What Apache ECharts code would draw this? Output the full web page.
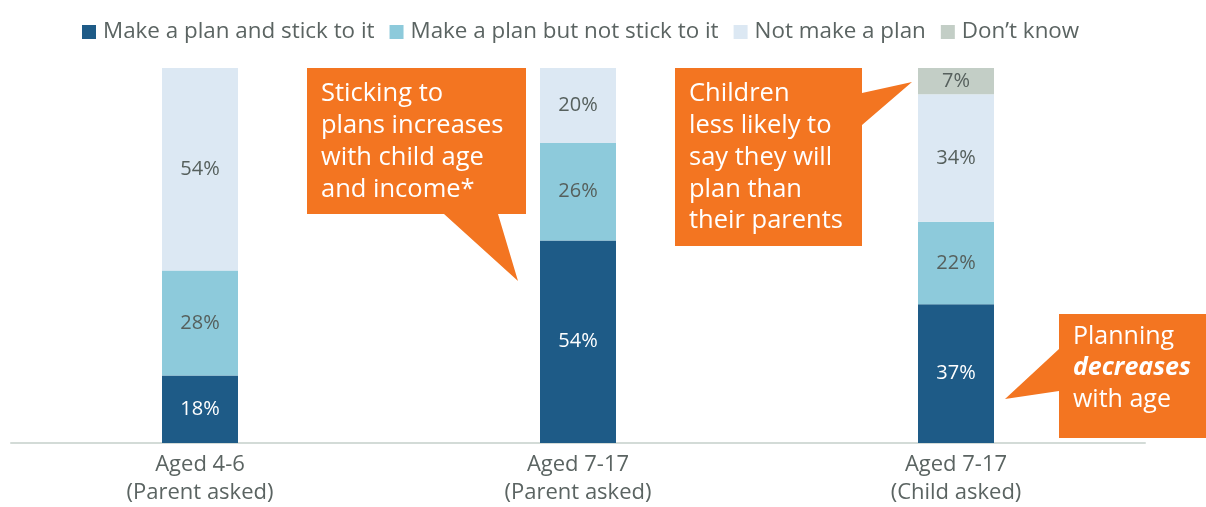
<!DOCTYPE html>
<html>
<head>
<meta charset="utf-8">
<script src="https://cdn.jsdelivr.net/npm/echarts@6/dist/echarts.min.js"></script>
<style>html,body{margin:0;padding:0;background:#fff;}#c{width:1206px;height:507px;}</style>
</head>
<body>
<div id="c"></div>
<script>
const categories = ['Aged 4-6\n(Parent asked)', 'Aged 7-17\n(Parent asked)', 'Aged 7-17\n(Child asked)'];
const seriesNames = ['Make a plan and stick to it', 'Make a plan but not stick to it', 'Not make a plan', 'Don\u2019t know'];
const planStick = [18, 54, 37];
const planNoStick = [28, 26, 22];
const noPlan = [54, 20, 34];
const dontKnow = [null, null, 7];
const colors = ['#1e5b87', '#8dcadb', '#dce8f3', '#c3cec6'];
const labelColors = ['#ffffff', '#56605d', '#56605d', '#56605d'];
const FONT = '"Open Sans", Lato, sans-serif';
const ORANGE = '#f37521';

const chart = echarts.init(document.getElementById('c'));
const allData = [planStick, planNoStick, noPlan, dontKnow];
const series = allData.map((d, i) => ({
  name: seriesNames[i],
  type: 'bar',
  stack: 'total',
  barWidth: 76,
  data: d,
  itemStyle: { color: colors[i] },
  label: {
    show: true,
    position: 'inside',
    formatter: p => p.value == null ? '' : p.value + '%',
    color: labelColors[i],
    fontSize: 20,
    fontFamily: FONT
  }
}));

function txt(x, y, lines, extra) {
  return Object.assign({
    type: 'text', left: x, top: y, z: 20,
    style: { text: lines.join('\n'), fill: '#ffffff', font: '25.5px ' + FONT, lineHeight: 31.8 }
  }, extra || {});
}

chart.setOption({
  animation: false,
  textStyle: { fontFamily: FONT },
  legend: {
    top: 16, left: 77,
    itemWidth: 14, itemHeight: 14, itemGap: 15,
    icon: 'rect',
    textStyle: { fontSize: 22.4, color: '#5b6462', fontFamily: FONT, padding: [0, 0, 0, 2] },
    data: seriesNames
  },
  grid: { left: 11, right: 61, top: 68, bottom: 62, containLabel: false },
  xAxis: {
    type: 'category',
    data: categories,
    axisLine: { lineStyle: { color: '#d3dbd7', width: 2 } },
    axisTick: { show: false },
    axisLabel: { fontSize: 22, color: '#5b6462', lineHeight: 28, margin: 8, fontFamily: FONT }
  },
  yAxis: { type: 'value', min: 0, max: 100, show: false },
  series: series,
  graphic: [
    { type: 'polygon', z: 10, shape: { points: [[307,68],[526,68],[526,214],[498,214],[518,281],[444,214],[307,214]] }, style: { fill: ORANGE } },
    txt(321, 78, ['Sticking to', 'plans increases', 'with child age', 'and income*']),
    { type: 'polygon', z: 10, shape: { points: [[675,68],[862,68],[862,93],[912,82],[862,125],[862,246],[675,246]] }, style: { fill: ORANGE } },
    txt(689, 78, ['Children', 'less likely to', 'say they will', 'plan than', 'their parents']),
    { type: 'polygon', z: 10, shape: { points: [[1059,314],[1206,314],[1206,438],[1059,438],[1059,391],[1005,399],[1059,349]] }, style: { fill: ORANGE } },
    {
      type: 'text', left: 1073, top: 324, z: 20,
      style: {
        text: '{n|Planning}\n{b|decreases}\n{n|with age}',
        fill: '#ffffff',
        rich: {
          n: { fontSize: 25, fontFamily: FONT, color: '#ffffff', lineHeight: 31.5 },
          b: { fontSize: 25, fontFamily: FONT, color: '#ffffff', fontWeight: 'bold', fontStyle: 'italic', lineHeight: 31.5 }
        }
      }
    }
  ]
});
</script>
</body>
</html>
